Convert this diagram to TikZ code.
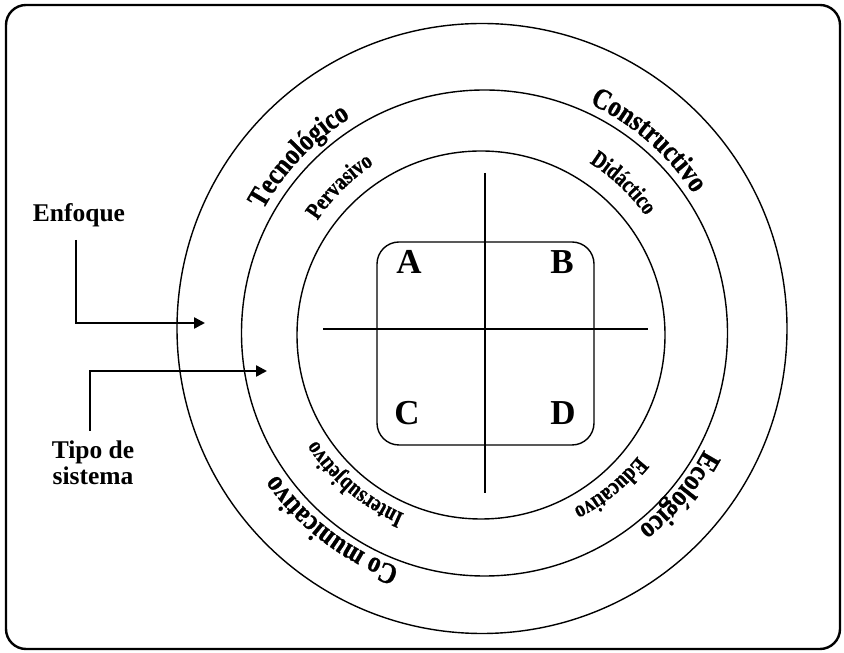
\documentclass[tikz,border=0pt]{standalone}
\usepackage{fontspec}
\setmainfont{Liberation Serif}
\newfontfamily\narrowserif[FakeStretch=0.8,FakeBold=0.8]{Liberation Serif}
\newfontfamily\widerserif[FakeStretch=0.85,FakeBold=0.8]{Liberation Serif}
\usetikzlibrary{arrows.meta,decorations.text}
\newcommand\bigringfont{\widerserif\bfseries\fontsize{29.5}{29.5}\selectfont}
\newcommand\smallringfont{\narrowserif\bfseries\fontsize{24}{24}\selectfont}
\newcommand\labelfontx{\bfseries\fontsize{25.5}{26}\selectfont}
\newcommand\letterfontx{\bfseries\fontsize{35}{35}\selectfont}
% #1 font, #2 text, #3 centre angle, #4 radius
\newcommand\ringlabel[4]{%
  \path[decorate, decoration={text along path, text align=center, text={|#1|#2}}]
    (O) ++({#3+60}:#4) arc[start angle={#3+60}, end angle={#3-60}, radius=#4];}
\begin{document}
\begin{tikzpicture}[x=1pt,y=1pt,
  ring/.style={draw, line width=1.4pt},
  bar/.style={line width=2.4pt},
  arr/.style={line width=2.4pt, -{Triangle[length=11pt,width=11pt]}},
  lbl/.style={font=\labelfontx, align=center, inner sep=0pt},
  letter/.style={font=\letterfontx, inner sep=0pt}]
\useasboundingbox (0,0) rectangle (844,653);
% frame
\draw[line width=2.4pt, rounded corners=20pt] (6,4) rectangle (840,648);
% circles
\coordinate (O) at (483,322);
\coordinate (C1) at (482,324.5);
\coordinate (C2) at (484.5,320);
\coordinate (C3) at (481,318);
\draw[ring] (C1) circle[radius=305];
\draw[ring] (C2) circle[radius=243];
\draw[ring] (C3) circle[radius=184];
% central square and cross
\node[draw, line width=1.4pt, rounded corners=22pt, minimum width=217pt, minimum height=203pt] (sq) at (485.5,309.5) {};
\coordinate (vt) at (485,480);
\coordinate (vb) at (485,160);
\coordinate (hl) at (323,324);
\coordinate (hr) at (648,324);
\draw[bar] (vt) -- (vb);
\draw[bar] (hl) -- (hr);
\node[letter] (A) at (409,391) {A};
\node[letter] (B) at (562,391) {B};
\node[letter] (C) at (407,240) {C};
\node[letter] (D) at (563,240) {D};
% ring labels
\ringlabel{\bigringfont}{Tecnológico}{136.5}{251}
\ringlabel{\bigringfont}{Constructivo}{49}{251}
\ringlabel{\bigringfont}{Co municativo}{232.7}{251}
\ringlabel{\bigringfont}{Ecológico}{-40}{251}
\ringlabel{\smallringfont}{Pervasivo}{134.8}{199}
\ringlabel{\smallringfont}{Didáctico}{46.5}{199}
\ringlabel{\smallringfont}{Intersubjetivo}{230}{199}
\ringlabel{\smallringfont}{Educativo}{-51}{199}
% side labels and arrows
\node[lbl] (enf) at (79,438) {Enfoque};
\node[lbl] (tipo) at (93,190) {Tipo de\\sistema};
\coordinate (tipE) at (205,330);
\coordinate (tipT) at (267,282);
\draw[arr] ([xshift=-3pt,yshift=-13pt]enf.south) |- (tipE);
\draw[arr] ([xshift=-3pt,yshift=10pt]tipo.north) |- (tipT);
\end{tikzpicture}
\end{document}
